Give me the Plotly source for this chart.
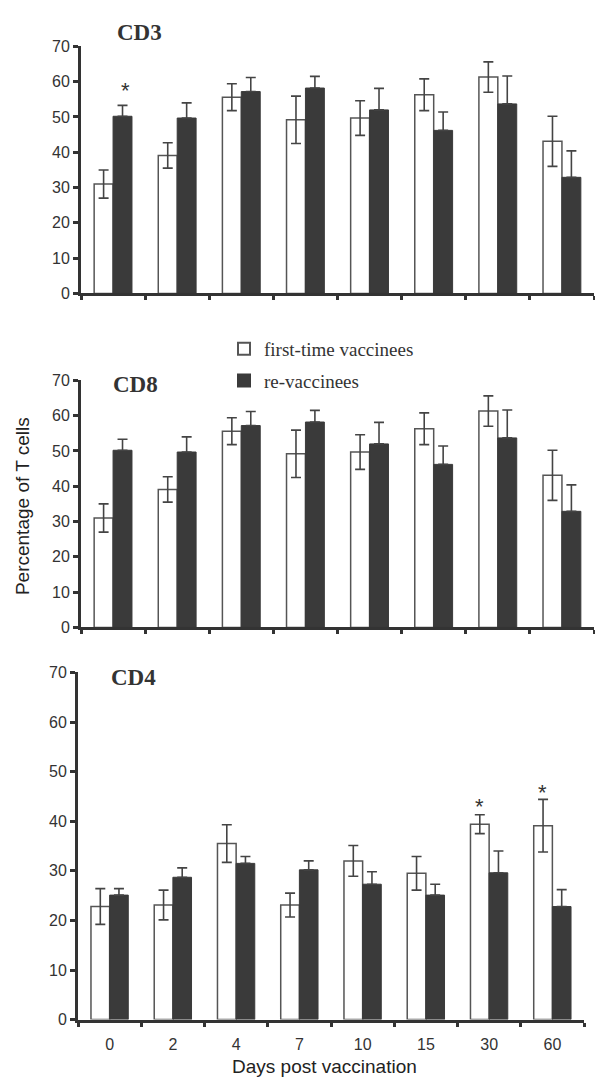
import plotly.graph_objects as go

# ---------------- data ----------------
days = ["0", "2", "4", "7", "10", "15", "30", "60"]

cd3_first = [31.0, 39.1, 55.6, 49.2, 49.7, 56.3, 61.3, 43.1]
cd3_first_err = [4.0, 3.6, 3.8, 6.7, 4.9, 4.5, 4.3, 7.1]
cd3_re = [50.2, 49.7, 57.2, 58.2, 52.0, 46.2, 53.7, 32.9]
cd3_re_err = [3.1, 4.3, 4.0, 3.3, 6.1, 5.2, 7.9, 7.5]

cd8_first = [31.0, 39.1, 55.6, 49.2, 49.7, 56.3, 61.3, 43.1]
cd8_first_err = [4.0, 3.6, 3.8, 6.7, 4.9, 4.5, 4.3, 7.1]
cd8_re = [50.2, 49.7, 57.2, 58.2, 52.0, 46.2, 53.7, 32.9]
cd8_re_err = [3.1, 4.3, 4.0, 3.3, 6.1, 5.2, 7.9, 7.5]

cd4_first = [22.8, 23.1, 35.5, 23.1, 32.0, 29.5, 39.4, 39.1]
cd4_first_err = [3.6, 3.0, 3.8, 2.4, 3.1, 3.4, 1.9, 5.3]
cd4_re = [25.1, 28.7, 31.5, 30.2, 27.3, 25.1, 29.6, 22.8]
cd4_re_err = [1.3, 1.9, 1.4, 1.8, 2.5, 2.2, 4.4, 3.4]

# significance stars: (day, series, value)
cd3_stars = [("0", "re", 59.1)]
cd4_stars = [("30", "first", 44.2), ("60", "first", 47.1)]

panel_names = ["CD3", "CD8", "CD4"]
series_names = ["first-time vaccinees", "re-vaccinees"]
y_ticks = [0, 10, 20, 30, 40, 50, 60, 70]

# ---------------- styling ----------------
W, H = 595, 1086
DARK = "#3a3a3a"
OUT = "#555555"
AX = "#333333"
TICKFONT = dict(family="Liberation Sans, Arial", size=16, color="#333333")

fig = go.Figure()

panels = [
    (cd3_first, cd3_first_err, cd3_re, cd3_re_err, "x", "y"),
    (cd8_first, cd8_first_err, cd8_re, cd8_re_err, "x2", "y2"),
    (cd4_first, cd4_first_err, cd4_re, cd4_re_err, "x3", "y3"),
]

for i, (f, fe, r, re_, xa, ya) in enumerate(panels):
    fig.add_trace(go.Bar(
        x=days, y=f, xaxis=xa, yaxis=ya, name=series_names[0],
        legendgroup="a", showlegend=(i == 0),
        marker=dict(color="white", line=dict(color=OUT, width=1.5)),
        error_y=dict(type="data", array=fe, visible=True, color="#444444",
                     thickness=1.6, width=5),
    ))
    fig.add_trace(go.Bar(
        x=days, y=r, xaxis=xa, yaxis=ya, name=series_names[1],
        legendgroup="b", showlegend=(i == 0),
        marker=dict(color=DARK, line=dict(color=DARK, width=1.0)),
        error_y=dict(type="data", symmetric=False, array=re_,
                     arrayminus=[0] * len(re_), visible=True,
                     color="#444444", thickness=1.6, width=5),
    ))

# domains (fractions of the page)
def ydom(top_px, bot_px):
    return [1 - bot_px / H, 1 - top_px / H]

doms = [
    ([81 / W, 594 / W], ydom(39, 290)),
    ([81 / W, 594 / W], ydom(378.3, 629.3)),
    ([78 / W, 584 / W], ydom(675, 1027.7)),
]

layout_axes = {}
for i, (xd, yd) in enumerate(doms):
    sfx = "" if i == 0 else str(i + 1)
    layout_axes["xaxis" + sfx] = dict(
        domain=xd, anchor="y" + sfx, type="category", range=[-0.5, 7.5],
        showline=True, linecolor=AX, linewidth=3,
        ticks="outside", tickson="boundaries", ticklen=4, tickwidth=2.5,
        tickcolor=AX, showgrid=False, zeroline=False,
        showticklabels=(i == 2), tickfont=TICKFONT, ticklabelstandoff=8,
    )
    layout_axes["yaxis" + sfx] = dict(
        domain=yd, anchor="x" + sfx, range=[0, 70], tickvals=y_ticks,
        showline=True, linecolor=AX, linewidth=3,
        ticks="outside", ticklen=5, tickwidth=2.5, tickcolor=AX,
        showgrid=False, zeroline=False, tickfont=TICKFONT,
    )

annotations = []
# panel labels
label_pos = [(139, 25), (135, 382), (133, 680)]
for name, (px, py) in zip(panel_names, label_pos):
    annotations.append(dict(
        x=px / W, y=1 - py / H, xref="paper", yref="paper", text="<b>%s</b>" % name,
        showarrow=False, xanchor="center", yanchor="middle",
        font=dict(family="Liberation Serif, Times New Roman", size=23, color="#333333"),
    ))

# stars (category index used as x position on the category axis)
def add_stars(stars, xr, yr):
    for d, s, v in stars:
        annotations.append(dict(
            x=days.index(d), y=v, xref=xr, yref=yr, text="*", showarrow=False,
            xshift=(-9.5 if s == "first" else 12.5),
            yshift=-6,
            font=dict(family="Liberation Sans, Arial", size=22, color="#333333"),
        ))

add_stars(cd3_stars, "x", "y")
add_stars(cd4_stars, "x3", "y3")

# axis titles
annotations.append(dict(
    x=22 / W, y=1 - 506 / H, xref="paper", yref="paper",
    text="Percentage of T cells", textangle=-90, showarrow=False,
    xanchor="center", yanchor="middle",
    font=dict(family="Liberation Sans, Arial", size=19, color="#222222"),
))
annotations.append(dict(
    x=325 / W, y=1 - 1075 / H, xref="paper", yref="paper",
    text="Days post vaccination", showarrow=False,
    xanchor="center", yanchor="middle",
    font=dict(family="Liberation Sans, Arial", size=19, color="#222222"),
))

fig.update_layout(
    width=W, height=H,
    margin=dict(l=0, r=0, t=0, b=0),
    paper_bgcolor="white", plot_bgcolor="white",
    barmode="group", bargap=0.41, bargroupgap=0.0,
    showlegend=True,
    legend=dict(
        x=224 / W, y=1 - 327 / H, xanchor="left", yanchor="top",
        bgcolor="rgba(0,0,0,0)", traceorder="grouped", tracegroupgap=4,
        font=dict(family="Liberation Serif, Times New Roman", size=19, color="#333333"),
        itemsizing="constant",
    ),
    annotations=annotations,
    **layout_axes,
)

fig.write_html("out.html")
